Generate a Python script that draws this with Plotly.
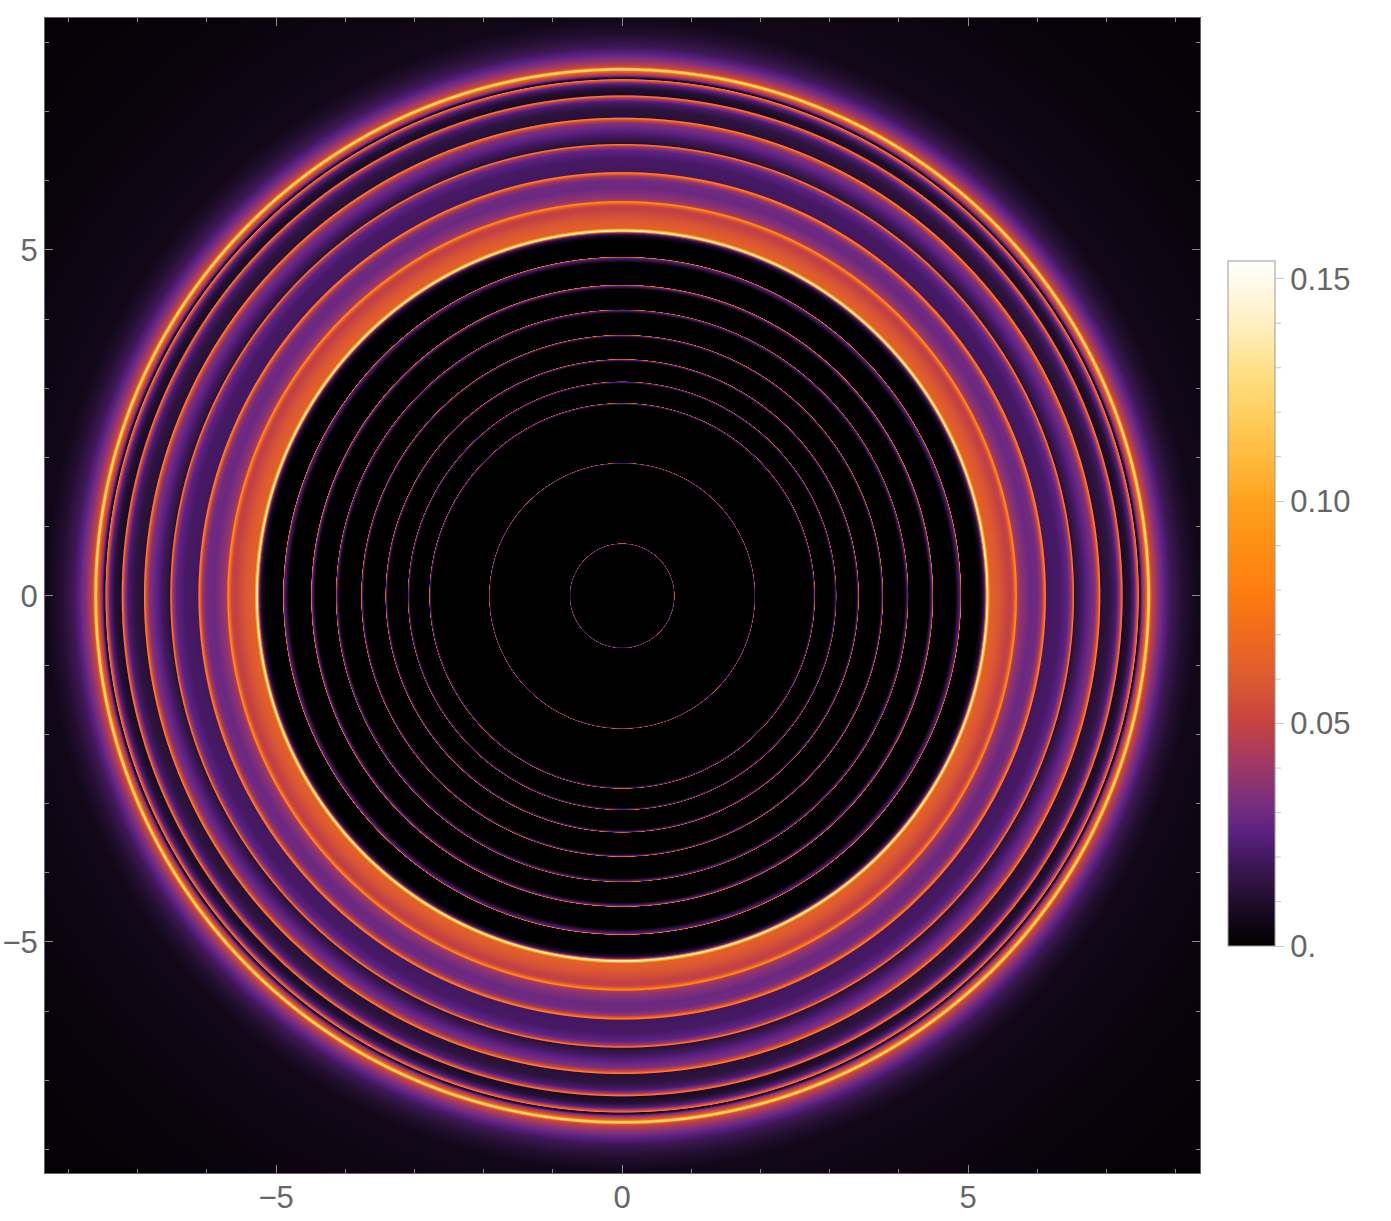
import numpy as np
import plotly.graph_objects as go

# Radial intensity profile read along the +x axis of the picture
profile_r = [0.000, 0.740, 0.752, 0.758, 0.761,
             1.905, 1.917, 1.923, 1.927,
             2.755, 2.780, 2.788, 2.792,
             3.065, 3.090, 3.098, 3.102,
             3.385, 3.412, 3.422, 3.426,
             3.735, 3.762, 3.773, 3.777,
             4.085, 4.128, 4.138, 4.142,
             4.435, 4.482, 4.497, 4.501,
             4.815, 4.888, 4.902, 4.906,
             5.160, 5.220, 5.250, 5.262, 5.275, 5.290, 5.318, 5.460, 5.607, 5.650, 5.680, 5.700, 5.718,
             5.750, 5.896, 6.010, 6.070, 6.098, 6.120, 6.135,
             6.330, 6.445, 6.500, 6.527, 6.542,
             6.763, 6.835, 6.879, 6.908, 6.922,
             7.052, 7.153, 7.197, 7.230, 7.245,
             7.341, 7.413, 7.442, 7.467, 7.478,
             7.493, 7.509, 7.529, 7.558, 7.585, 7.601, 7.625, 7.645, 7.673,
             7.746, 7.847, 7.962, 8.107, 8.324, 10.0, 12.0]
profile_v = [0.0, 0.0, 0.024, 0.060, 0.0,
             0.0, 0.026, 0.065, 0.0,
             0.0, 0.022, 0.070, 0.0,
             0.0, 0.024, 0.070, 0.0,
             0.0, 0.024, 0.075, 0.0,
             0.0, 0.024, 0.075, 0.0,
             0.0, 0.025, 0.078, 0.0,
             0.0, 0.025, 0.080, 0.0,
             0.0, 0.025, 0.085, 0.0,
             0.0, 0.010, 0.030, 0.080, 0.140, 0.130, 0.064, 0.058, 0.048, 0.052, 0.070, 0.092, 0.044,
             0.038, 0.029, 0.030, 0.040, 0.062, 0.086, 0.020,
             0.021, 0.026, 0.040, 0.082, 0.012,
             0.028, 0.034, 0.052, 0.085, 0.012,
             0.014, 0.023, 0.040, 0.080, 0.008,
             0.012, 0.026, 0.050, 0.080, 0.005,
             0.010, 0.024, 0.038, 0.052, 0.068, 0.118, 0.125, 0.058, 0.048,
             0.036, 0.025, 0.017, 0.011, 0.006, 0.003, 0.001]

# Colour scale
scale_v = [0.0, 0.005, 0.01, 0.015, 0.02, 0.025, 0.03, 0.04, 0.05, 0.06, 0.07, 0.08, 0.09, 0.10, 0.11, 0.12, 0.13, 0.14, 0.154]
scale_c = ["#000000", "#0f0614", "#1f0d2c", "#321544", "#43185f", "#5a2080", "#702a80", "#9c3868", "#c64242",
           "#dd5a30", "#f06a1c", "#ff7d10", "#ff8f14", "#ffa21e", "#ffbb40", "#ffd060", "#ffe189", "#fff0c2", "#ffffff"]

major_ticks = [-5, 0, 5]
bar_ticks = [0.0, 0.05, 0.10, 0.15]
bar_labels = ["0.", "0.05", "0.10", "0.15"]
bar_minor = [0.01, 0.02, 0.03, 0.04, 0.06, 0.07, 0.08, 0.09, 0.11, 0.12, 0.13, 0.14]

ZMAX = 0.154
XMIN, XMAX = -8.34, 8.35
N = 1155
x = np.linspace(XMIN, XMAX, N)
y = np.linspace(XMIN, XMAX, N)
X, Y = np.meshgrid(x, y)
z = np.interp(np.hypot(X, Y), profile_r, profile_v).astype("float32")

GRAY = "#666666"
TXT = "#666666"
FONT = "Liberation Sans"

bar_y0 = (1173 - 946) / 1155
bar_len = 685 / 1155
fig = go.Figure(go.Heatmap(
    x=x, y=y, z=z, zmin=0, zmax=ZMAX, zsmooth=False, hoverinfo="skip",
    colorscale=[[v / ZMAX, c] for v, c in zip(scale_v, scale_c)],
    colorbar=dict(
        x=1 + 28 / 1155, xanchor="left", xpad=0, y=bar_y0, yanchor="bottom", ypad=0,
        len=bar_len, lenmode="fraction", thickness=47, thicknessmode="pixels",
        outlinecolor="#999999", outlinewidth=1,
        tickmode="array", tickvals=bar_ticks, ticktext=bar_labels, ticks="outside",
        ticklen=9, tickwidth=1, tickcolor="#c8c8c8",
        tickfont=dict(family=FONT, size=31, color=TXT),
    ),
))

# minor ticks of the legend bar, positioned from the value scale
shapes = []
for v in bar_minor:
    py = bar_y0 + bar_len * v / ZMAX
    shapes.append(dict(type="line", xref="paper", yref="paper",
                       x0=(1275 - 45) / 1155, x1=(1281 - 45) / 1155, y0=py, y1=py,
                       line=dict(color="#c8c8c8", width=1)))

axis = dict(
    range=[XMIN, XMAX], tickmode="array", tickvals=major_ticks, ticks="inside", ticklen=8, tickwidth=1,
    tickcolor="#8c8c8c", showgrid=False, zeroline=False, showline=True, linecolor=GRAY, linewidth=1,
    mirror="allticks", tickfont=dict(family=FONT, size=31, color=TXT),
    minor=dict(ticks="inside", dtick=1, tick0=0, ticklen=4, tickwidth=1, tickcolor="#8c8c8c", showgrid=False),
)
fig.update_layout(
    width=1391, height=1221,
    margin=dict(l=45, r=191, t=18, b=48, autoexpand=False),
    paper_bgcolor="white", plot_bgcolor="black",
    xaxis=dict(axis, ticklabelstandoff=-3), yaxis=axis, shapes=shapes,
)
fig.write_html("out.html", config={"displayModeBar": False},
               post_script="document.body.style.margin='0';document.body.style.overflow='hidden';")
